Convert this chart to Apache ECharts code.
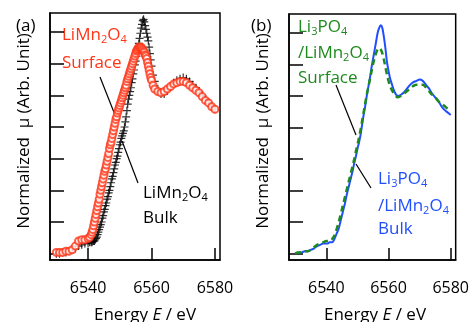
<!DOCTYPE html>
<html lang="en">
<head>
    <meta charset="UTF-8">
    <title>XANES Mn K-edge</title>
    <style>
        html, body { margin: 0; padding: 0; background: #fff; }
        #xanes { width: 472px; height: 322px; }
    </style>
</head>
<body>
    <div id="xanes"></div>
    <script src="https://cdn.jsdelivr.net/npm/echarts@6/dist/echarts.min.js"></script>
    <script type="text/javascript">
        // (a) energy grid (eV) - finer on the edge where the markers crowd together
        var energyA = [6530, 6531, 6532, 6533, 6534, 6535, 6536, 6537, 6538, 6539, 6540, 6540.5,
            6541, 6541.25, 6541.5, 6541.75, 6542, 6542.25, 6542.5, 6542.75,
            6543, 6543.25, 6543.5, 6543.75, 6544, 6544.25, 6544.5, 6544.75,
            6545, 6545.25, 6545.5, 6545.75, 6546, 6546.25, 6546.5, 6546.75,
            6547, 6547.25, 6547.5, 6547.75, 6548, 6548.25, 6548.5, 6548.75,
            6549, 6549.25, 6549.5, 6549.75, 6550, 6550.25, 6550.5, 6550.75,
            6551, 6551.25, 6551.5, 6551.75, 6552, 6552.25, 6552.5, 6552.75,
            6553, 6553.25, 6553.5, 6553.75, 6554, 6554.25, 6554.5, 6554.75,
            6555, 6555.25, 6555.5, 6555.75, 6556, 6556.25, 6556.5, 6556.75,
            6557, 6557.25, 6557.5, 6557.75, 6558, 6558.25, 6558.5, 6558.75,
            6559, 6559.25, 6559.5, 6559.75, 6560, 6560.5,
            6561, 6562, 6563, 6564, 6565, 6566, 6567, 6568, 6569, 6570,
            6571, 6572, 6573, 6574, 6575, 6576, 6577, 6578, 6579, 6580];

        // (a) LiMn2O4 bulk (crosses) and surface (circles)
        var bulkA = [0.00, 0.00, 0.01, 0.01, 0.02, 0.03, 0.04, 0.06, 0.07, 0.08, 0.08, 0.09,
            0.09, 0.09, 0.10, 0.10, 0.10, 0.11, 0.12, 0.13,
            0.15, 0.17, 0.19, 0.21, 0.23, 0.25, 0.28, 0.30,
            0.33, 0.35, 0.38, 0.40, 0.43, 0.45, 0.48, 0.50,
            0.53, 0.56, 0.59, 0.61, 0.64, 0.67, 0.70, 0.72,
            0.75, 0.77, 0.80, 0.83, 0.86, 0.88, 0.91, 0.93,
            0.95, 0.97, 1.00, 1.04, 1.08, 1.13, 1.18, 1.22,
            1.25, 1.28, 1.31, 1.35, 1.38, 1.42, 1.45, 1.49,
            1.52, 1.56, 1.59, 1.63, 1.66, 1.70, 1.74, 1.78,
            1.81, 1.84, 1.85, 1.83, 1.80, 1.77, 1.74, 1.71,
            1.68, 1.63, 1.58, 1.53, 1.48, 1.41,
            1.36, 1.30, 1.26, 1.26, 1.29, 1.32, 1.35, 1.37, 1.38, 1.39,
            1.38, 1.36, 1.33, 1.31, 1.28, 1.25, 1.22, 1.19, 1.16, 1.14];
        var surfA = [0.01, 0.01, 0.01, 0.02, 0.02, 0.03, 0.06, 0.10, 0.11, 0.11, 0.12, 0.13,
            0.15, 0.17, 0.19, 0.22, 0.25, 0.28, 0.31, 0.34,
            0.37, 0.40, 0.43, 0.47, 0.50, 0.53, 0.56, 0.59,
            0.62, 0.65, 0.67, 0.70, 0.73, 0.76, 0.79, 0.83,
            0.86, 0.88, 0.91, 0.94, 0.97, 1.00, 1.03, 1.06,
            1.08, 1.11, 1.13, 1.15, 1.17, 1.19, 1.21, 1.23,
            1.25, 1.27, 1.29, 1.31, 1.33, 1.36, 1.38, 1.40,
            1.42, 1.44, 1.46, 1.48, 1.50, 1.52, 1.54, 1.56,
            1.58, 1.60, 1.61, 1.62, 1.63, 1.63, 1.63, 1.63,
            1.62, 1.61, 1.60, 1.59, 1.57, 1.56, 1.54, 1.51,
            1.48, 1.45, 1.42, 1.39, 1.37, 1.33,
            1.30, 1.28, 1.27, 1.28, 1.30, 1.32, 1.34, 1.35, 1.36, 1.36,
            1.35, 1.33, 1.31, 1.29, 1.27, 1.24, 1.21, 1.19, 1.16, 1.14];

        // (b) energy grid (eV)
        var energyB = [6530, 6531, 6532, 6533, 6534, 6535, 6536, 6537, 6538, 6539, 6540,
            6540.5, 6541, 6541.5, 6542, 6542.5, 6543, 6543.5, 6544, 6544.5, 6545, 6545.5,
            6546, 6546.5, 6547, 6547.5, 6548, 6548.5, 6549, 6549.5, 6550, 6550.5, 6551,
            6551.5, 6552, 6552.5, 6553, 6553.5, 6554, 6554.5, 6555, 6555.5, 6556, 6556.5,
            6557, 6557.5, 6558, 6558.5, 6559, 6559.5, 6560, 6560.5, 6561,
            6562, 6563, 6564, 6565, 6566, 6567, 6568, 6569, 6570, 6571, 6572, 6573, 6574,
            6575, 6576, 6577, 6578, 6579, 6580];

        // (b) Li3PO4/LiMn2O4 bulk (solid) and surface (dashed)
        var bulkB = [0.00, 0.01, 0.01, 0.02, 0.02, 0.03, 0.04, 0.06, 0.07, 0.08, 0.08,
            0.08, 0.09, 0.09, 0.09, 0.11, 0.14, 0.17, 0.20, 0.25, 0.30, 0.35,
            0.40, 0.46, 0.51, 0.56, 0.61, 0.66, 0.72, 0.77, 0.83, 0.88, 0.94,
            1.02, 1.10, 1.17, 1.25, 1.32, 1.39, 1.47, 1.54, 1.61, 1.68, 1.75,
            1.79, 1.81, 1.79, 1.72, 1.63, 1.52, 1.45, 1.39, 1.35,
            1.28, 1.25, 1.26, 1.28, 1.31, 1.34, 1.36, 1.37, 1.38, 1.37, 1.34, 1.31, 1.27,
            1.24, 1.21, 1.17, 1.14, 1.12, 1.10];
        var surfB = [0.00, 0.01, 0.01, 0.02, 0.02, 0.03, 0.05, 0.07, 0.08, 0.09, 0.10,
            0.10, 0.11, 0.11, 0.12, 0.14, 0.17, 0.21, 0.25, 0.30, 0.35, 0.40,
            0.45, 0.50, 0.55, 0.60, 0.65, 0.70, 0.75, 0.81, 0.86, 0.92, 0.98,
            1.05, 1.12, 1.19, 1.26, 1.32, 1.38, 1.44, 1.50, 1.55, 1.59, 1.62,
            1.63, 1.62, 1.59, 1.54, 1.48, 1.42, 1.37, 1.33, 1.30,
            1.26, 1.24, 1.25, 1.27, 1.29, 1.31, 1.33, 1.34, 1.34, 1.34, 1.32, 1.29, 1.26,
            1.24, 1.21, 1.19, 1.17, 1.15, 1.14];

        var xTicks = [6540, 6560, 6580];
        var yTicks = [0, 0.25, 0.5, 0.75, 1, 1.25, 1.5, 1.75];

        function pairs(xs, ys) {
            return xs.map(function (e, i) { return [e, ys[i]]; });
        }

        var FONT = 'Open Sans';
        var RED = '#ff3516', GREEN = '#1e8a1e', BLUE = '#1f4fff';

        function xAxisFor(idx) {
            return {
                type: 'value', gridIndex: idx, min: 6528, max: 6581.6,
                axisLine: { show: true, onZero: false, lineStyle: { color: '#000', width: 1.5 } },
                axisTick: { inside: true, length: 12, customValues: xTicks, lineStyle: { color: '#000', width: 1.5 } },
                axisLabel: {
                    customValues: xTicks, color: '#000', fontFamily: FONT, fontSize: 16, margin: 20,
                    formatter: function (v) { return String(v); }
                },
                splitLine: { show: false }
            };
        }
        function yAxisFor(idx) {
            return {
                type: 'value', gridIndex: idx, min: -0.05, max: 1.9,
                axisLine: { show: true, onZero: false, lineStyle: { color: '#000', width: 1.5 } },
                axisTick: { inside: true, length: 14, customValues: yTicks, lineStyle: { color: '#000', width: 1.5 } },
                axisLabel: { show: false },
                splitLine: { show: false }
            };
        }

        // rich text styles, s = subscript
        function rich(color) {
            return {
                n: { color: color, fontFamily: FONT, fontSize: 17 },
                s: { color: color, fontFamily: FONT, fontSize: 11, padding: [9, 0, 0, 0] }
            };
        }
        function label(x, y, text, color) {
            return {
                type: 'text', x: x, y: y,
                style: { text: text, rich: rich(color), fill: color, font: '17px "Open Sans"', verticalAlign: 'middle' }
            };
        }
        function leader(x1, y1, x2, y2) {
            return { type: 'line', shape: { x1: x1, y1: y1, x2: x2, y2: y2 }, style: { stroke: '#000', lineWidth: 1.2 } };
        }

        var chart = echarts.init(document.getElementById('xanes'));
        var option = {
            animation: false,
            backgroundColor: '#fff',
            grid: [
                { left: 50, top: 13, width: 170, height: 247, show: true, borderColor: '#000', borderWidth: 1.5 },
                { left: 289, top: 14, width: 167, height: 246, show: true, borderColor: '#000', borderWidth: 1.5 }
            ],
            xAxis: [xAxisFor(0), xAxisFor(1)],
            yAxis: [yAxisFor(0), yAxisFor(1)],
            series: [
                {
                    name: 'LiMn2O4 Bulk', type: 'scatter', xAxisIndex: 0, yAxisIndex: 0,
                    data: pairs(energyA, bulkA),
                    symbol: 'path://M0,5L10,5M5,0L5,10', symbolSize: 8,
                    itemStyle: { color: 'none', borderColor: '#000', borderWidth: 1.2 }
                },
                {
                    name: 'LiMn2O4 Surface', type: 'scatter', xAxisIndex: 0, yAxisIndex: 0,
                    data: pairs(energyA, surfA),
                    symbol: 'emptyCircle', symbolSize: 7,
                    itemStyle: { color: RED, borderColor: RED, borderWidth: 1 }
                },
                {
                    name: 'Li3PO4/LiMn2O4 Bulk', type: 'line', xAxisIndex: 1, yAxisIndex: 1,
                    data: pairs(energyB, bulkB), showSymbol: false, smooth: 0.3,
                    lineStyle: { color: BLUE, width: 2 }
                },
                {
                    name: 'Li3PO4/LiMn2O4 Surface', type: 'line', xAxisIndex: 1, yAxisIndex: 1,
                    data: pairs(energyB, surfB), showSymbol: false, smooth: 0.3,
                    lineStyle: { color: GREEN, width: 2.5, type: [6, 4] }
                }
            ],
            graphic: [
                // axis titles
                { type: 'text', x: 24, y: 131, rotation: Math.PI / 2,
                  style: { text: 'Normalized  \u03bc (Arb. Unit)', fill: '#000', font: '17px "Open Sans"', align: 'center', verticalAlign: 'middle' } },
                { type: 'text', x: 263, y: 131, rotation: Math.PI / 2,
                  style: { text: 'Normalized  \u03bc (Arb. Unit)', fill: '#000', font: '17px "Open Sans"', align: 'center', verticalAlign: 'middle' } },
                { type: 'text', x: 145, y: 315,
                  style: { text: 'Energy {i|E} / eV', rich: { i: { fontStyle: 'italic', fontFamily: FONT, fontSize: 17 } }, fill: '#000', font: '17px "Open Sans"', align: 'center', verticalAlign: 'middle' } },
                { type: 'text', x: 375, y: 315,
                  style: { text: 'Energy {i|E} / eV', rich: { i: { fontStyle: 'italic', fontFamily: FONT, fontSize: 17 } }, fill: '#000', font: '17px "Open Sans"', align: 'center', verticalAlign: 'middle' } },
                // panel letters
                { type: 'text', x: 16, y: 26, style: { text: '(a)', fill: '#000', font: '17px "Open Sans"', verticalAlign: 'middle' } },
                { type: 'text', x: 251, y: 26, style: { text: '(b)', fill: '#000', font: '17px "Open Sans"', verticalAlign: 'middle' } },
                // panel (a) annotations
                label(62, 35, '{n|LiMn}{s|2}{n|O}{s|4}', RED),
                label(62, 63, '{n|Surface}', RED),
                label(143, 193, '{n|LiMn}{s|2}{n|O}{s|4}', '#000'),
                label(143, 218, '{n|Bulk}', '#000'),
                leader(100, 77, 117, 120),
                leader(122, 141, 138, 183),
                // panel (b) annotations
                label(298, 27, '{n|Li}{s|3}{n|PO}{s|4}', GREEN),
                label(298, 53, '{n|/LiMn}{s|2}{n|O}{s|4}', GREEN),
                label(298, 78, '{n|Surface}', GREEN),
                label(378, 179, '{n|Li}{s|3}{n|PO}{s|4}', BLUE),
                label(378, 206, '{n|/LiMn}{s|2}{n|O}{s|4}', BLUE),
                label(378, 229, '{n|Bulk}', BLUE),
                leader(336, 85, 356, 135),
                leader(356, 164, 371, 188)
            ]
        };
        chart.setOption(option);
    </script>
</body>
</html>
